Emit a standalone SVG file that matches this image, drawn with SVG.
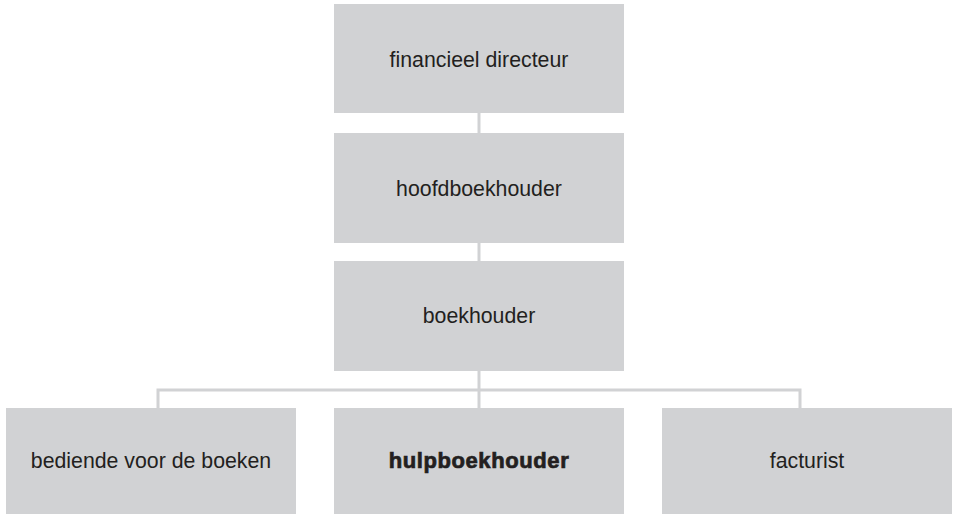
<svg xmlns="http://www.w3.org/2000/svg" width="953" height="514" viewBox="0 0 953 514">
<style>
.box{fill:#d1d2d4}
.lbl{font-family:"Liberation Sans",Arial,sans-serif;font-size:21.3px;fill:#231f20;text-anchor:middle}
.bold{font-size:22px;font-weight:900;letter-spacing:0.6px;stroke:#231f20;stroke-width:0.7px}
.conn{stroke:#d1d2d4;stroke-width:3;fill:none}
</style>
<rect width="953" height="514" fill="#ffffff"/>
<g id="connectors">
<line class="conn" x1="479" y1="113" x2="479" y2="133"/>
<line class="conn" x1="479" y1="243" x2="479" y2="261"/>
<line class="conn" x1="479" y1="371" x2="479" y2="408"/>
<polyline class="conn" points="158,408 158,390 800,390 800,408"/>
</g>
<g id="n1"><rect class="box" x="334" y="4" width="290" height="109"/><text class="lbl" x="479" y="67">financieel directeur</text></g>
<g id="n2"><rect class="box" x="334" y="133" width="290" height="110"/><text class="lbl" x="479" y="196">hoofdboekhouder</text></g>
<g id="n3"><rect class="box" x="334" y="261" width="290" height="110"/><text class="lbl" x="479" y="323">boekhouder</text></g>
<g id="n4"><rect class="box" x="6" y="408" width="290" height="106"/><text class="lbl" x="151" y="468">bediende voor de boeken</text></g>
<g id="n5"><rect class="box" x="334" y="408" width="290" height="106"/><text class="lbl bold" x="479" y="468">hulpboekhouder</text></g>
<g id="n6"><rect class="box" x="662" y="408" width="290" height="106"/><text class="lbl" x="807" y="468">facturist</text></g>
</svg>
